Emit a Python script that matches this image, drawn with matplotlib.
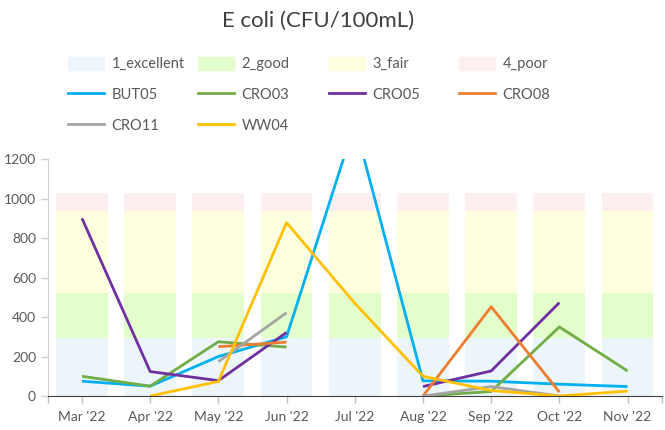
import matplotlib
matplotlib.use("Agg")
import matplotlib.pyplot as plt
import matplotlib.patches as mpatches
from matplotlib.lines import Line2D
import numpy as np

plt.rcParams['font.family'] = ['Lato', 'DejaVu Sans']

months = ["Mar '22", "Apr '22", "May '22", "Jun '22", "Jul '22",
          "Aug '22", "Sep '22", "Oct '22", "Nov '22"]

# water quality bands (stacked)
band_names = ["1_excellent", "2_good", "3_fair", "4_poor"]
band_sizes = [295, 225, 415, 95]
band_colors = ["#ECF5F9", "#E3FDCB", "#FEFFDF", "#FDEFEF"]

nan = np.nan
sites = {
    "BUT05": [75, 50, 200, 300, 1380, 77, 75, 60, 48],
    "CRO03": [100, 50, 275, 248, nan, 0, 23, 350, 127],
    "CRO05": [900, 124, 78, 322, nan, 48, 127, 473, nan],
    "CRO08": [nan, nan, 250, 273, nan, 0, 452, 20, nan],
    "CRO11": [nan, nan, 174, 422, nan, 0, 48, 0, nan],
    "WW04": [nan, 0, 74, 878, 470, 100, 28, 0, 25],
}
site_colors = {
    "BUT05": "#00B0F0",
    "CRO03": "#70AD47",
    "CRO05": "#7030A0",
    "CRO08": "#ED7D31",
    "CRO11": "#A5A5A5",
    "WW04": "#FFC000",
}

fig = plt.figure(figsize=(6.65, 4.3), dpi=100)
ax = fig.add_axes([0.072, 0.079, 0.923, 0.551])

x = np.arange(len(months))
bottom = np.zeros(len(months))
band_handles = []
for name, size, col in zip(band_names, band_sizes, band_colors):
    ax.bar(x, [size] * len(months), bottom=bottom, width=0.76,
           color=col, label=name, zorder=1)
    bottom += size
    band_handles.append(mpatches.Patch(color=col, label=name))

line_handles = {}
for name, vals in sites.items():
    # missing months leave a gap in the line
    ax.plot(x, np.array(vals, dtype=float), color=site_colors[name], lw=2.0,
            solid_capstyle='butt', zorder=3)
    line_handles[name] = Line2D([], [], color=site_colors[name], lw=2.0, label=name)

ax.set_xlim(-0.5, 8.5)
ax.set_ylim(0, 1200)
ax.set_yticks(range(0, 1201, 200))
ax.set_xticks(x)
ax.set_xticklabels(months)
ax.set_xticks([-0.5, 8.5], minor=True)

for s in ['top', 'right']:
    ax.spines[s].set_visible(False)
ax.spines['left'].set_color('#D0D0D0')
ax.spines['bottom'].set_color('#404040')
ax.spines['bottom'].set_zorder(4)
ax.tick_params(axis='y', colors='#D0D0D0', labelcolor='#595959', labelsize=10,
               length=5, width=1)
ax.tick_params(axis='x', which='both', colors='#BFBFBF', labelcolor='#595959',
               labelsize=10, length=5, width=1, pad=6)

fig.text(0.478, 0.952, "E coli (CFU/100mL)", ha='center', va='center',
         fontsize=16, color='#404040')

# legend laid out in 4 equal columns
columns = [
    [band_handles[0], line_handles["BUT05"], line_handles["CRO11"]],
    [band_handles[1], line_handles["CRO03"], line_handles["WW04"]],
    [band_handles[2], line_handles["CRO05"]],
    [band_handles[3], line_handles["CRO08"]],
]
col_x = [62, 192, 323, 453]
for cx, hs in zip(col_x, columns):
    fig.legend(handles=hs, loc='upper left',
               bbox_to_anchor=(cx / 665, 1 - 51 / 430), frameon=False,
               fontsize=10.5, handlelength=2.5, handleheight=1.0,
               handletextpad=0.5, labelspacing=1.12, borderaxespad=0,
               labelcolor='#595959')

fig.savefig("out.png", dpi=100)
